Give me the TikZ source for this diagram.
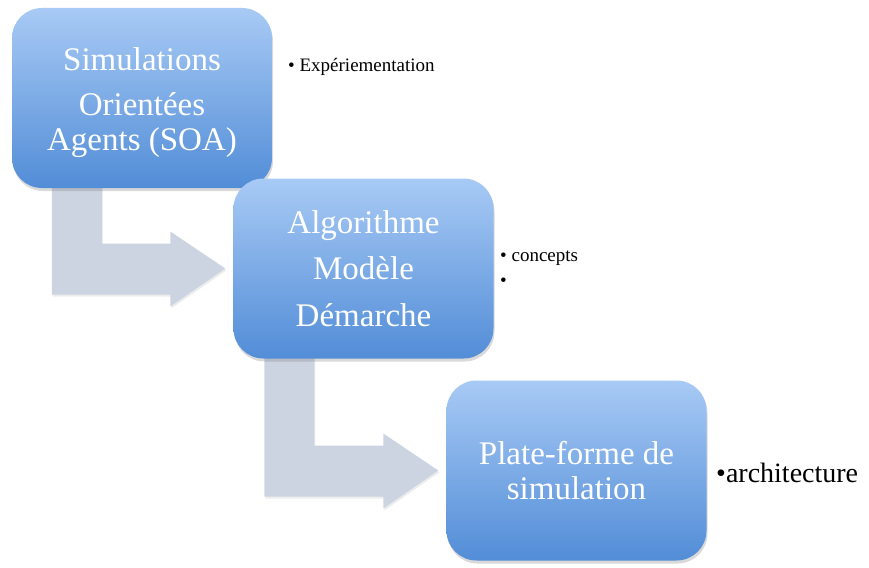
\documentclass[tikz,border=0pt]{standalone}
\usepackage{fontspec}
\setmainfont{Liberation Serif}
\usetikzlibrary{calc,shadows,backgrounds}

\definecolor{boxtop}{RGB}{168,202,245}
\definecolor{boxbottom}{RGB}{82,141,215}
\definecolor{arrowgray}{RGB}{204,212,226}

% bent block arrow from the bottom of one box to the left side of the next
\newcommand{\bentarrow}[3]{%
  \fill[flow] let \p1 = (#1.south west), \p2 = (#2.west) in
    (\x1+#3, \y1+10pt) -- (\x1+#3+50pt, \y1+10pt) -- (\x1+#3+50pt, \y2+25pt)
    -- (\x2-63pt, \y2+25pt) -- (\x2-63pt, \y2+37pt) -- (\x2-8pt, \y2)
    -- (\x2-63pt, \y2-38pt) -- (\x2-63pt, \y2-26pt) -- (\x1+#3, \y2-26pt) -- cycle;}

\begin{document}
\begin{tikzpicture}[x=1pt, y=-1pt,
    box/.style={rectangle, rounded corners=30pt, minimum width=260pt, minimum height=180pt,
      top color=boxtop, bottom color=boxbottom, text=white, align=center,
      font=\fontsize{33}{35}\selectfont,
      drop shadow={shadow xshift=1pt, shadow yshift=-3pt, opacity=.3}},
    flow/.style={fill=arrowgray, drop shadow={shadow xshift=1pt, shadow yshift=-2pt, opacity=.15}},
    note/.style={anchor=west, inner sep=0pt, font=\fontsize{19}{21}\selectfont}]
  \useasboundingbox (0,0) rectangle (869,567);

  \node[box] (soa) at (142,98) {\rule{0pt}{32pt}Simulations\\[10pt]Orientées\\Agents (SOA)};
  \node[box] (algo) at (363.5,268.5) {Algorithme\\[11pt]Modèle\\[12pt]Démarche};
  \node[box] (plat) at (576.5,470.5) {Plate-forme de\\simulation};

  \begin{pgfonlayer}{background}
    \bentarrow{soa}{algo}{40pt}
    \bentarrow{algo}{plat}{31pt}
  \end{pgfonlayer}

  \node[note] (exp) at (288,67) {• Expériementation};
  \node[note] (conc) at (500,258) {• concepts};
  \node[note] (empty) at (500,282) {•};
  \node[note, font=\fontsize{28}{30}\selectfont] (arch) at (716,473) {•architecture};

\end{tikzpicture}
\end{document}
